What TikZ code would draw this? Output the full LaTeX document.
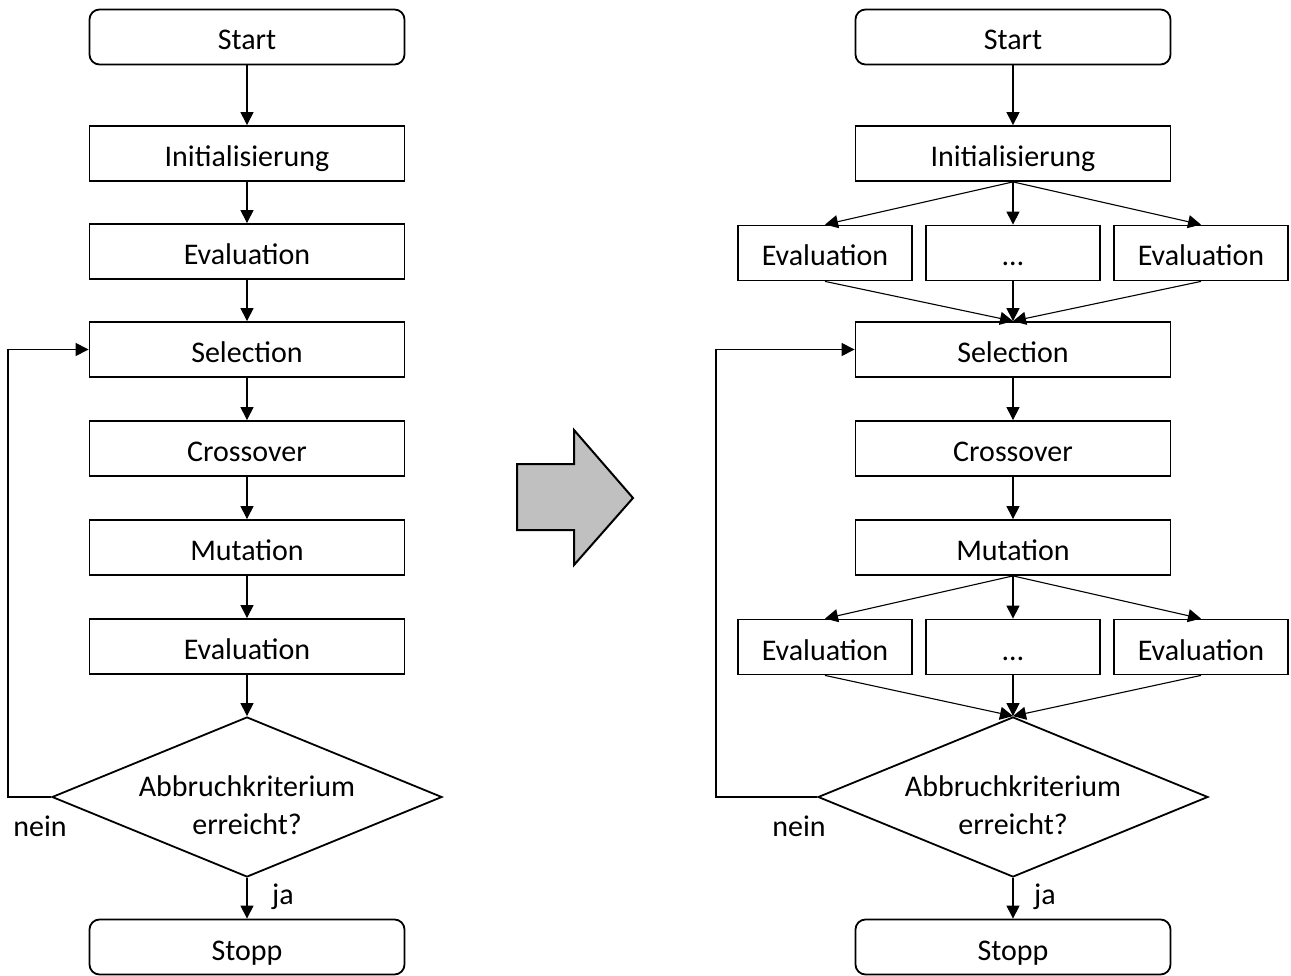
\documentclass[tikz,border=0pt]{standalone}
\usepackage{fontspec}
\setmainfont{Carlito}
\usetikzlibrary{arrows.meta,shapes.geometric}
\definecolor{arrowfill}{RGB}{192,192,192}
\begin{document}
\begin{tikzpicture}[x=1pt,y=-1pt,
  txt/.style={font=\fontsize{30}{38}\selectfont},
  box/.style={txt,draw,line width=1.8pt,minimum width=315pt,minimum height=55pt,inner sep=0pt,text height=26pt,text depth=0pt},
  smallbox/.style={box,minimum width=174pt},
  term/.style={box,rounded corners=10pt},
  decision/.style={diamond,draw,line width=1.8pt,minimum width=390pt,minimum height=160pt,inner sep=0pt},
  arr/.style={line width=1.1pt,-{Triangle[length=13pt,width=13pt]}},
  bigarrow/.style={draw,line width=2pt,fill=arrowfill,line join=miter}]
\useasboundingbox (0,0) rectangle (1291,976);

% ---- sequential genetic algorithm ----
\node[term] (start1) at (247,37) {Start};
\node[box] (init1) at (247,153.5) {Initialisierung};
\node[box] (evalA1) at (247,251.5) {Evaluation};
\node[box] (sel1) at (247,349.5) {Selection};
\node[box] (cross1) at (247,448.5) {Crossover};
\node[box] (mut1) at (247,547.5) {Mutation};
\node[box] (evalB1) at (247,646.5) {Evaluation};
\node[decision] (dec1) at (247,797) {};
\node[txt,align=center] (q1) at (247,805) {Abbruchkriterium\\erreicht?};
\node[term] (stop1) at (247,947) {Stopp};
\node[txt] (nein1) at (40,826) {nein};
\node[txt] (ja1) at (283,897) {ja};
\coordinate (loop1) at (8,0);

\draw[arr] (start1) -- (init1);
\draw[arr] (init1) -- (evalA1);
\draw[arr] (evalA1) -- (sel1);
\draw[arr] (sel1) -- (cross1);
\draw[arr] (cross1) -- (mut1);
\draw[arr] (mut1) -- (evalB1);
\draw[arr] (evalB1) -- (dec1.north);
\draw[arr] (dec1.south) -- (stop1);
\draw[arr] (dec1.west) -- (dec1.west -| loop1) |- (sel1.west);

% ---- transition arrow ----
\draw[bigarrow] (517,464) -- (574,464) -- (574,430) -- (633,498) -- (574,565) -- (574,530) -- (517,530) -- cycle;

% ---- parallel evaluation ----
\node[term] (start2) at (1013,37) {Start};
\node[box] (init2) at (1013,153.5) {Initialisierung};
\node[smallbox] (evalAl) at (825,253) {Evaluation};
\node[smallbox] (evalAm) at (1013,253) {…};
\node[smallbox] (evalAr) at (1201,253) {Evaluation};
\node[box] (sel2) at (1013,349.5) {Selection};
\node[box] (cross2) at (1013,448.5) {Crossover};
\node[box] (mut2) at (1013,547.5) {Mutation};
\node[smallbox] (evalBl) at (825,647) {Evaluation};
\node[smallbox] (evalBm) at (1013,647) {…};
\node[smallbox] (evalBr) at (1201,647) {Evaluation};
\node[decision] (dec2) at (1013,797) {};
\node[txt,align=center] (q2) at (1013,805) {Abbruchkriterium\\erreicht?};
\node[term] (stop2) at (1013,947) {Stopp};
\node[txt] (nein2) at (799,826) {nein};
\node[txt] (ja2) at (1045,897) {ja};
\coordinate (loop2) at (716,0);

\draw[arr] (start2) -- (init2);
\draw[arr] (init2.south) -- (evalAl.north);
\draw[arr] (init2.south) -- (evalAm.north);
\draw[arr] (init2.south) -- (evalAr.north);
\draw[arr] (evalAl.south) -- (sel2.north);
\draw[arr] (evalAm.south) -- (sel2.north);
\draw[arr] (evalAr.south) -- (sel2.north);
\draw[arr] (sel2) -- (cross2);
\draw[arr] (cross2) -- (mut2);
\draw[arr] (mut2.south) -- (evalBl.north);
\draw[arr] (mut2.south) -- (evalBm.north);
\draw[arr] (mut2.south) -- (evalBr.north);
\draw[arr] (evalBl.south) -- (dec2.north);
\draw[arr] (evalBm.south) -- (dec2.north);
\draw[arr] (evalBr.south) -- (dec2.north);
\draw[arr] (dec2.south) -- (stop2);
\draw[arr] (dec2.west) -- (dec2.west -| loop2) |- (sel2.west);
\end{tikzpicture}
\end{document}
